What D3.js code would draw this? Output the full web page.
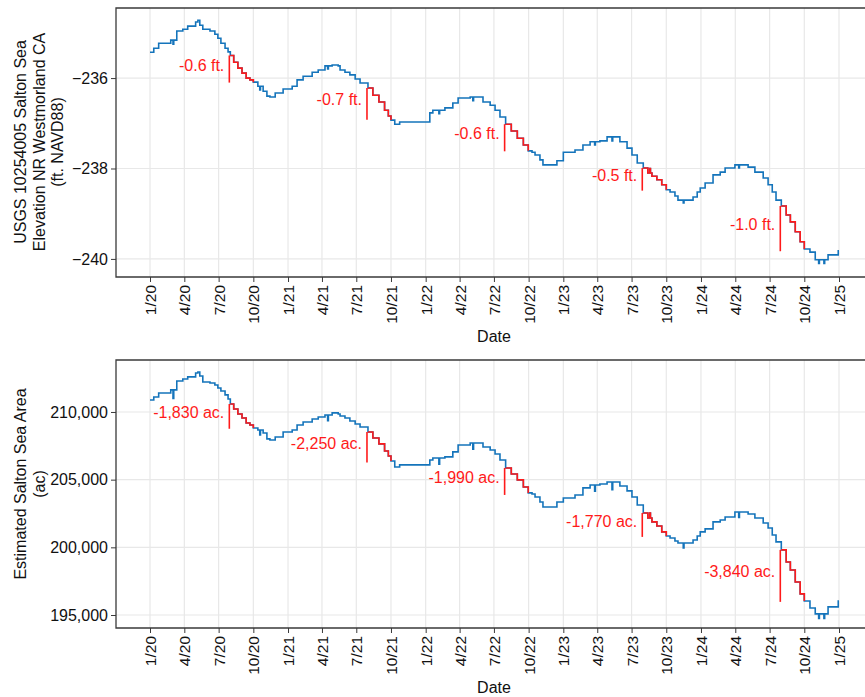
<!DOCTYPE html>
<html>
<head>
<meta charset="utf-8">
<script src="https://cdn.jsdelivr.net/npm/d3@7"></script>
<style>
  body { margin: 0; background: #fff; }
  text { font-family: "Liberation Sans", Arial, sans-serif; }
</style>
</head>
<body>
<script>
const width = 865;
const height = 697;

const blue = "#1474bb";
const red = "#ff1a1a";
const gridColor = "#e8e8e8";
const frameColor = "#3a3a3a";

// readings off the gauge, step values
const dates = [
  "2020-01-01","2020-01-11","2020-01-24","2020-02-25","2020-03-02","2020-03-04","2020-03-12","2020-03-28",
  "2020-04-10","2020-05-01","2020-05-07","2020-05-12","2020-05-20","2020-06-08","2020-06-21","2020-06-29",
  "2020-07-07","2020-07-18","2020-07-26","2020-08-01","2020-08-10","2020-08-21","2020-09-01","2020-09-12",
  "2020-09-22","2020-10-01","2020-10-13","2020-10-18","2020-10-20","2020-10-27","2020-11-06","2020-11-14",
  "2020-11-28","2020-12-19","2021-01-12","2021-01-25","2021-02-10","2021-03-06","2021-03-22","2021-04-09",
  "2021-04-16","2021-04-18","2021-04-28","2021-05-14","2021-05-19","2021-06-01","2021-06-14","2021-06-28",
  "2021-07-11","2021-08-01","2021-08-14","2021-08-30","2021-09-14","2021-09-24","2021-10-01","2021-10-11",
  "2021-10-24","2022-01-12","2022-01-20","2022-02-05","2022-02-07","2022-02-21","2022-03-14","2022-03-28",
  "2022-04-29","2022-05-06","2022-05-08","2022-06-02","2022-06-21","2022-07-04","2022-07-17","2022-08-01",
  "2022-08-16","2022-09-01","2022-09-17","2022-09-30","2022-10-10","2022-10-18","2022-10-31","2022-11-08",
  "2022-12-15","2023-01-01","2023-02-01","2023-02-22","2023-03-13","2023-03-25","2023-03-27","2023-04-08",
  "2023-04-27","2023-05-10","2023-05-12","2023-05-31","2023-06-19","2023-07-02","2023-07-16","2023-08-01",
  "2023-08-13","2023-08-18","2023-08-20","2023-08-24","2023-09-06","2023-09-19","2023-10-01","2023-10-11",
  "2023-10-24","2023-11-01","2023-11-15","2023-11-17","2023-12-11","2023-12-22","2023-12-30","2024-01-12",
  "2024-02-02","2024-02-21","2024-03-05","2024-03-31","2024-04-10","2024-04-12","2024-05-05","2024-05-23",
  "2024-06-14","2024-06-27","2024-07-08","2024-07-18","2024-08-01","2024-08-14","2024-08-25","2024-09-07",
  "2024-09-20","2024-10-01","2024-10-16","2024-10-30","2024-11-08","2024-11-10","2024-11-22","2024-11-24",
  "2024-12-03","2024-12-30","2025-01-01"
];

const elevFt = [
  -235.43,-235.34,-235.23,-235.16,-235.25,-235.16,-234.96,-234.92,
  -234.85,-234.76,-234.72,-234.83,-234.92,-234.96,-235.03,-235.12,
  -235.23,-235.34,-235.42,-235.50,-235.65,-235.78,-235.89,-236.00,
  -236.04,-236.09,-236.18,-236.26,-236.18,-236.29,-236.40,-236.42,
  -236.33,-236.24,-236.18,-236.04,-235.96,-235.87,-235.82,-235.73,
  -235.80,-235.73,-235.71,-235.73,-235.82,-235.87,-235.93,-236.02,
  -236.11,-236.22,-236.38,-236.53,-236.71,-236.84,-236.93,-237.02,
  -236.97,-236.77,-236.71,-236.79,-236.71,-236.66,-236.55,-236.44,
  -236.42,-236.50,-236.42,-236.53,-236.60,-236.71,-236.86,-237.02,
  -237.17,-237.33,-237.48,-237.61,-237.64,-237.70,-237.81,-237.92,
  -237.83,-237.64,-237.59,-237.48,-237.41,-237.48,-237.41,-237.39,
  -237.30,-237.39,-237.30,-237.41,-237.55,-237.70,-237.88,-237.99,
  -238.10,-238.00,-238.10,-238.17,-238.25,-238.36,-238.47,-238.52,
  -238.61,-238.70,-238.76,-238.70,-238.63,-238.52,-238.43,-238.32,
  -238.14,-238.08,-237.99,-237.92,-237.99,-237.92,-237.97,-238.08,
  -238.21,-238.36,-238.52,-238.70,-238.83,-239.03,-239.18,-239.40,
  -239.62,-239.78,-239.85,-240.02,-240.10,-240.02,-240.10,-240.02,
  -239.91,-239.82,-239.82
];

const areaAc = [
  210890,211110,211400,211630,211000,211630,212290,212440,
  212590,212880,212950,212660,212220,212140,211990,211770,
  211550,211260,210960,210590,210220,209850,209560,209190,
  209040,208820,208670,208300,208670,208450,208010,207930,
  208150,208520,208670,209040,209260,209480,209630,209780,
  209350,209780,209930,209850,209700,209560,209330,209110,
  208890,208520,208080,207640,207120,206750,206380,205940,
  206090,206450,206600,206150,206600,206680,207050,207560,
  207710,207250,207710,207410,207190,206900,206450,205860,
  205420,204980,204460,204020,203940,203720,203350,202980,
  203350,203650,203870,204390,204610,204150,204610,204680,
  204830,204250,204830,204530,204170,203720,203130,202540,
  202170,202540,202170,201880,201580,201140,200840,200690,
  200470,200320,199950,200320,200540,200840,201140,201360,
  201880,202020,202240,202610,202200,202610,202460,202170,
  201800,201430,200910,200400,199810,198920,198330,197440,
  196560,196040,195520,195080,194740,195080,194740,195080,
  195600,196040,196040
];

// Aug 1 -> Oct 1 decline each year
const declineYears = [2020, 2021, 2022, 2023, 2024];
const elevDecline = [0.6, 0.7, 0.6, 0.5, 1.0];
const elevLabels = ["-0.6 ft.", "-0.7 ft.", "-0.6 ft.", "-0.5 ft.", "-1.0 ft."];
const areaDecline = [1830, 2250, 1990, 1770, 3840];
const areaLabels = ["-1,830 ac.", "-2,250 ac.", "-1,990 ac.", "-1,770 ac.", "-3,840 ac."];

const elevTicks = [-240, -238, -236];
const areaTicks = [195000, 200000, 205000, 210000];

const parse = d3.timeParse("%Y-%m-%d");

const svg = d3.select("body")
  .append("svg")
  .attr("width", width)
  .attr("height", height);

const left = 116;
const right = 867;

const x = d3.scaleTime()
  .domain([new Date(2020, 0, 1), new Date(2025, 0, 1)])
  .range([150, 839]);

const xTicks = d3.timeMonth.every(3).range(new Date(2020, 0, 1), new Date(2025, 0, 2));
const tickFmt = d => (d.getMonth() + 1) + "/" + String(d.getFullYear()).slice(2);

function panel(top, bottom, y, values, ticks, yFmt, titleLines, titleY, declines, labels) {
  const data = dates.map((d, i) => ({date: parse(d), value: values[i]}));
  const g = svg.append("g");

  // grid
  g.selectAll(".vgrid")
    .data(xTicks)
    .enter()
    .append("line")
    .attr("x1", d => x(d)).attr("x2", d => x(d))
    .attr("y1", top).attr("y2", bottom)
    .attr("stroke", gridColor).attr("stroke-width", 1.2);
  g.selectAll(".hgrid")
    .data(ticks)
    .enter()
    .append("line")
    .attr("x1", left).attr("x2", right)
    .attr("y1", d => y(d)).attr("y2", d => y(d))
    .attr("stroke", gridColor).attr("stroke-width", 1.2);

  // axes
  const xAxis = g.append("g")
    .attr("transform", "translate(0," + bottom + ")")
    .call(d3.axisBottom(x).tickValues(xTicks).tickFormat(tickFmt).tickSize(5).tickPadding(4));
  xAxis.select(".domain").remove();
  xAxis.selectAll("line").attr("stroke", frameColor);
  xAxis.selectAll("text")
    .attr("transform", "rotate(-90)")
    .attr("text-anchor", "end")
    .attr("dy", "0.35em")
    .attr("x", -8)
    .attr("y", 0)
    .attr("fill", "#111")
    .style("font-size", "15.5px");

  const yAxis = g.append("g")
    .attr("transform", "translate(" + left + ",0)")
    .call(d3.axisLeft(y).tickValues(ticks).tickFormat(yFmt).tickSize(5).tickPadding(3));
  yAxis.select(".domain").remove();
  yAxis.selectAll("line").attr("stroke", frameColor);
  yAxis.selectAll("text").attr("fill", "#111").style("font-size", "16px");

  // frame
  g.append("path")
    .attr("d", "M" + right + "," + top + "H" + left + "V" + bottom + "H" + right)
    .attr("fill", "none")
    .attr("stroke", frameColor)
    .attr("stroke-width", 1.3);

  g.append("text")
    .text("Date")
    .attr("x", 494)
    .attr("y", bottom + 65)
    .attr("text-anchor", "middle")
    .attr("fill", "#111")
    .style("font-size", "16px");

  const title = g.append("text")
    .attr("transform", "translate(0," + titleY + ") rotate(-90)")
    .attr("text-anchor", "middle")
    .attr("fill", "#111")
    .style("font-size", "16px");
  titleLines.forEach((t, i) => {
    title.append("tspan")
      .text(t)
      .attr("x", 0)
      .attr("y", 26 + i * 18.5);
  });

  const line = d3.line()
    .x(d => x(d.date))
    .y(d => y(d.value))
    .curve(d3.curveStepAfter);

  g.append("path")
    .attr("d", line(data))
    .attr("fill", "none")
    .attr("stroke", blue)
    .attr("stroke-width", 1.6);

  declineYears.forEach((yr, i) => {
    const start = new Date(yr, 7, 1);
    const end = new Date(yr, 9, 1);
    const seg = data.filter(d => d.date >= start && d.date <= end);
    g.append("path")
      .attr("d", line(seg))
      .attr("fill", "none")
      .attr("stroke", red)
      .attr("stroke-width", 1.6);

    const v0 = seg[0].value;
    const v1 = v0 - declines[i];
    g.append("line")
      .attr("x1", x(start) - 1).attr("x2", x(start) - 1)
      .attr("y1", y(v0)).attr("y2", y(v1))
      .attr("stroke", red)
      .attr("stroke-width", 1.6);
    g.append("text")
      .text(labels[i])
      .attr("x", x(start) - 6)
      .attr("y", (y(v0) + y(v1)) / 2 - 4)
      .attr("dy", "0.35em")
      .attr("text-anchor", "end")
      .attr("fill", red)
      .style("font-size", "16px");
  });
}

const yElev = d3.scaleLinear().domain([-240.4, -234.45]).range([277, 8]);
const yArea = d3.scaleLinear().domain([194040, 213840]).range([628, 360]);

panel(8, 277, yElev, elevFt, elevTicks, d3.format(".0f"),
  ["USGS 10254005 Salton Sea", "Elevation NR Westmorland CA", "(ft. NAVD88)"], 142, elevDecline, elevLabels);
panel(360, 628, yArea, areaAc, areaTicks, d3.format(","),
  ["Estimated Salton Sea Area", "(ac)"], 484, areaDecline, areaLabels);
</script>
</body>
</html>
